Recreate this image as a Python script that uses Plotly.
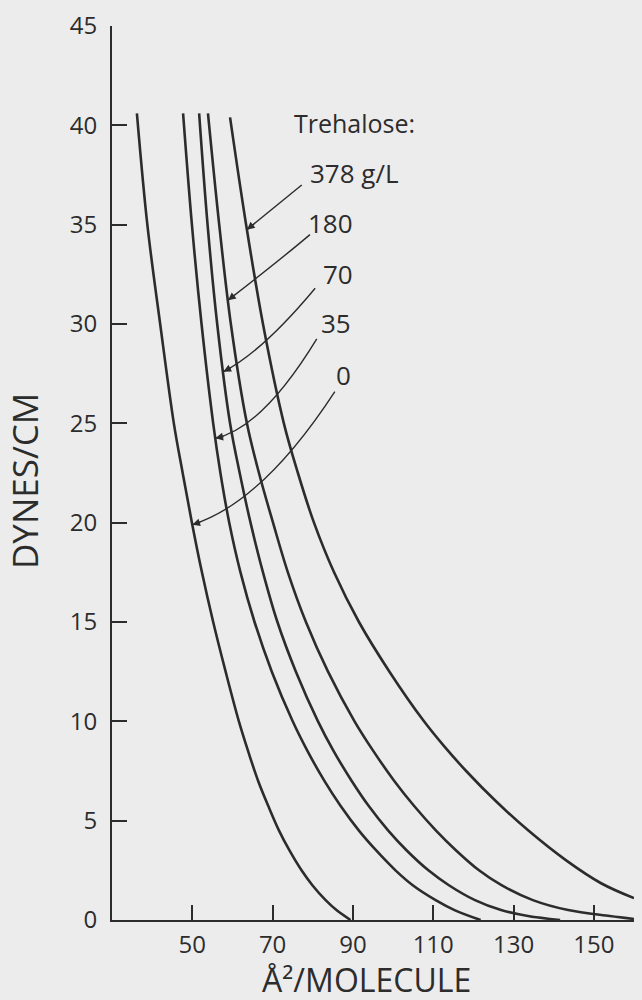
import numpy as np
import plotly.graph_objects as go

# Pressure-area isotherms: surface pressure (dynes/cm) vs area per molecule (Å²)
PI_0 = [40.6, 35, 30, 25, 22.5, 20, 17.5, 15, 12.5, 10, 8.5, 7, 5.75, 4.5, 3.5, 2.5, 1.75, 1.0, 0.5, 0.0]
AREA_0 = [36.2, 38.8, 42.0, 45.4, 47.6, 49.9, 52.4, 55.2, 58.3, 61.6, 63.9, 66.4, 68.9, 71.6,
          74.2, 77.2, 79.9, 83.2, 85.9, 89.4]

PI_35 = [40.6, 35, 30, 25, 22.5, 20, 17.5, 15, 12.5, 10, 8.5, 7, 5.75, 4.5, 3.5, 2.5, 1.75, 1.0, 0.5, 0.0]
AREA_35 = [47.7, 49.9, 52.3, 55.2, 57.0, 59.2, 62.0, 65.5, 69.8, 75.0, 78.7, 82.9, 86.9, 91.5,
           95.8, 100.6, 104.9, 110.6, 115.3, 121.8]

PI_70 = [40.6, 35, 30, 25, 22.5, 20, 17.5, 15, 12.5, 10, 8.5, 7, 5.75, 4.5, 3.5, 2.5, 1.75, 1.0, 0.5, 0.2, 0.0]
AREA_70 = [51.7, 53.8, 56.2, 59.4, 61.8, 64.5, 67.6, 71.2, 75.8, 81.3, 85.2, 89.7, 93.9, 98.8,
           103.4, 108.8, 113.9, 120.4, 126.9, 133.6, 141.6]

PI_180 = [40.6, 35, 30, 25, 22.5, 20, 17.5, 15, 12.5, 10, 8.5, 7, 5.75, 4.5, 3.5, 2.5, 1.75, 1.0, 0.5, 0.2, 0.05]
AREA_180 = [53.9, 56.7, 59.6, 63.6, 66.6, 70.1, 73.8, 78.3, 83.8, 90.4, 95.1, 100.3, 105.2, 110.7,
            115.7, 121.4, 127.0, 134.8, 143.6, 154.0, 160.0]

PI_378 = [40.4, 35, 30, 25, 22.5, 20, 17.5, 15, 12.5, 10, 8.75, 7.5, 6.0, 4.5, 3.0, 1.85, 1.1]
AREA_378 = [59.4, 63.4, 67.6, 72.8, 76.3, 80.3, 85.3, 91.5, 99.1, 107.7, 112.7, 118.2, 125.5,
            133.7, 143.1, 151.8, 160.0]

# Trehalose concentration labels and the pressure where each leader meets its curve
LABELS = ["378 g/L", "180", "70", "35", "0"]
ARROW_PI = [34.75, 31.2, 27.6, 24.25, 19.9]

X_TICKS = [50, 70, 90, 110, 130, 150]
Y_TICKS = [0, 5, 10, 15, 20, 25, 30, 35, 40, 45]

series = {
    "378 g/L": (AREA_378, PI_378),
    "180": (AREA_180, PI_180),
    "70": (AREA_70, PI_70),
    "35": (AREA_35, PI_35),
    "0": (AREA_0, PI_0),
}

W, H = 642, 1000
M = dict(l=112, r=8, t=20, b=80)
X_RANGE = [30, 160]
Y_RANGE = [0, 45]
px_x = (W - M["l"] - M["r"]) / (X_RANGE[1] - X_RANGE[0])
px_y = (H - M["t"] - M["b"]) / (Y_RANGE[1] - Y_RANGE[0])

INK = "#2c2c2c"
BG = "#ececec"
FONT = "Open Sans"

fig = go.Figure()
for name, (area, pi) in series.items():
    fig.add_trace(go.Scatter(
        x=area, y=pi, mode="lines", name=name,
        line=dict(color=INK, width=2.6, shape="spline", smoothing=1.0),
        hoverinfo="skip", showlegend=False,
    ))

# Label text anchor (right edge for numbers, left edge for the top label) and leader geometry
label_pos = {
    "378 g/L": dict(x=78.8, y=37.6, xanchor="left"),
    "180": dict(x=90.5, y=35.1, xanchor="right"),
    "70": dict(x=90.5, y=32.5, xanchor="right"),
    "35": dict(x=90.0, y=30.05, xanchor="right"),
    "0": dict(x=90.0, y=27.45, xanchor="right"),
}
leader_start = {
    "378 g/L": (77.25, 37.0),
    "180": (79.3, 34.5),
    "70": (80.6, 31.8),
    "35": (81.0, 29.25),
    "0": (85.5, 26.6),
}
leader_ctrl = {
    "378 g/L": None,
    "180": (72.3, 33.3),
    "70": (67.4, 28.6),
    "35": (67.4, 24.75),
    "0": (67.4, 21.0),
}

for lab, pi_tip in zip(LABELS, ARROW_PI):
    area, pi = series[lab]
    order = np.argsort(pi)
    x_tip = float(np.interp(pi_tip, np.array(pi)[order], np.array(area)[order]))
    sx, sy = leader_start[lab]
    ctrl = leader_ctrl[lab]
    if ctrl is None:
        ctrl = ((sx + x_tip) / 2, (sy + pi_tip) / 2)
    cx, cy = ctrl
    fig.add_shape(
        type="path",
        path=f"M {sx},{sy} Q {cx},{cy} {x_tip},{pi_tip}",
        line=dict(color=INK, width=1.4),
        xref="x", yref="y",
    )
    # arrowhead pointing along the leader's final tangent
    dx = (cx - x_tip) * px_x
    dy = -(cy - pi_tip) * px_y
    n = (dx ** 2 + dy ** 2) ** 0.5
    fig.add_annotation(
        x=x_tip, y=pi_tip, text="", showarrow=True,
        ax=dx / n * 10, ay=dy / n * 10,
        arrowhead=2, arrowsize=1.1, arrowwidth=1.4, arrowcolor=INK,
        standoff=0,
    )
    p = label_pos[lab]
    fig.add_annotation(
        x=p["x"], y=p["y"], text=lab, showarrow=False,
        xanchor=p["xanchor"], yanchor="middle",
        font=dict(family=FONT, size=26, color=INK),
    )

fig.add_annotation(
    x=74.8, y=40.1, text="Trehalose:", showarrow=False,
    xanchor="left", yanchor="middle",
    font=dict(family=FONT, size=25, color=INK),
)

# Axis titles
fig.add_annotation(
    xref="paper", yref="paper", x=-0.1686, y=0.491,
    text="DYNES/CM", textangle=-90, showarrow=False,
    xanchor="center", yanchor="middle",
    font=dict(family=FONT, size=35, color=INK),
)
fig.add_annotation(
    xref="paper", yref="paper", x=0.487, y=-0.066,
    text="Å²/MOLECULE", showarrow=False,
    xanchor="center", yanchor="middle",
    font=dict(family=FONT, size=32, color=INK),
)

axis_common = dict(
    showgrid=False, zeroline=False, showline=True, linecolor=INK, linewidth=2,
    ticks="inside", ticklen=15, tickwidth=2, tickcolor=INK, mirror=False,
    tickfont=dict(family=FONT, size=24, color=INK),
)
fig.update_xaxes(range=X_RANGE, tickmode="array", tickvals=X_TICKS,
                 ticktext=[str(v) for v in X_TICKS], ticklabelstandoff=2, **axis_common)
fig.update_yaxes(range=Y_RANGE, tickmode="array", tickvals=Y_TICKS,
                 ticktext=[str(v) for v in Y_TICKS], ticklabelstandoff=8, **axis_common)

fig.update_layout(
    width=W, height=H, margin=M,
    paper_bgcolor=BG, plot_bgcolor=BG,
    font=dict(family=FONT, color=INK),
)

fig.write_html("out.html")
